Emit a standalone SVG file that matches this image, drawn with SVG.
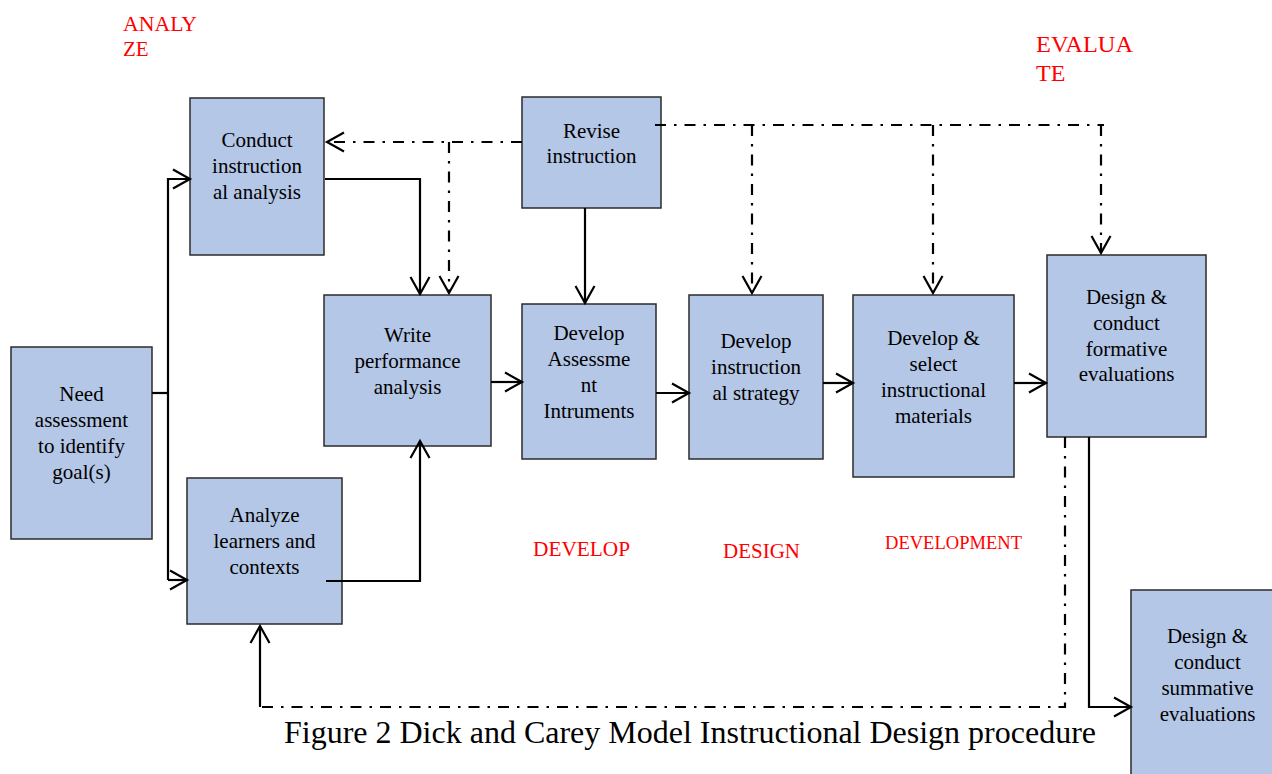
<svg xmlns="http://www.w3.org/2000/svg" width="1272" height="774" viewBox="0 0 1272 774">
<style>
.box{fill:#B4C7E7;stroke:#2b2b2b;stroke-width:1.5}
.t{font-family:"Liberation Serif","Times New Roman",serif;font-size:21px;fill:#000;text-anchor:middle}
.red{font-family:"Liberation Serif","Times New Roman",serif;fill:#FF0000}
.s{fill:none;stroke:#000;stroke-width:2.2}
.d{fill:none;stroke:#000;stroke-width:2.2;stroke-dasharray:11,8,2.5,8}
.cap{font-family:"Liberation Serif","Times New Roman",serif;font-size:32px;fill:#000}
</style>
<defs>
<marker id="arr" markerUnits="userSpaceOnUse" markerWidth="22" markerHeight="24" viewBox="-19 -12 22 24" refX="0" refY="0" orient="auto">
<path d="M-17,-9.5 L0,0 L-17,9.5" fill="none" stroke="#000" stroke-width="2.2" stroke-dasharray="none"/>
</marker>
</defs>
<rect width="1272" height="774" fill="#fff"/>
<g id="labels">
<text class="red" font-size="21" x="123" y="31" textLength="74" lengthAdjust="spacingAndGlyphs">ANALY</text>
<text class="red" font-size="21" x="123" y="56">ZE</text>
<text class="red" font-size="24" x="1036" y="52" textLength="97" lengthAdjust="spacingAndGlyphs">EVALUA</text>
<text class="red" font-size="24" x="1036" y="81">TE</text>
<text class="red" font-size="20.5" x="533" y="556" textLength="97" lengthAdjust="spacingAndGlyphs">DEVELOP</text>
<text class="red" font-size="20.5" x="723" y="558" textLength="77" lengthAdjust="spacingAndGlyphs">DESIGN</text>
<text class="red" font-size="19" x="885" y="549" textLength="137" lengthAdjust="spacingAndGlyphs">DEVELOPMENT</text>
</g>
<g id="need">
<rect class="box" x="11" y="347" width="141" height="192"/>
<text class="t" x="81.5" y="401">Need</text>
<text class="t" x="81.5" y="427">assessment</text>
<text class="t" x="81.5" y="453">to identify</text>
<text class="t" x="81.5" y="479">goal(s)</text>
</g>
<g id="conduct">
<rect class="box" x="190" y="98" width="134" height="157"/>
<text class="t" x="257" y="147">Conduct</text>
<text class="t" x="257" y="173">instruction</text>
<text class="t" x="257" y="199">al analysis</text>
</g>
<g id="analyze">
<rect class="box" x="187" y="478" width="155" height="146"/>
<text class="t" x="264.5" y="522">Analyze</text>
<text class="t" x="264.5" y="548">learners and</text>
<text class="t" x="264.5" y="574">contexts</text>
</g>
<g id="write">
<rect class="box" x="324" y="295" width="167" height="151"/>
<text class="t" x="407.5" y="342">Write</text>
<text class="t" x="407.5" y="368">performance</text>
<text class="t" x="407.5" y="394">analysis</text>
</g>
<g id="revise">
<rect class="box" x="522" y="97" width="139" height="111"/>
<text class="t" x="591.5" y="138">Revise</text>
<text class="t" x="591.5" y="163">instruction</text>
</g>
<g id="assess">
<rect class="box" x="522" y="304" width="134" height="155"/>
<text class="t" x="589" y="340">Develop</text>
<text class="t" x="589" y="366">Assessme</text>
<text class="t" x="589" y="392">nt</text>
<text class="t" x="589" y="418">Intruments</text>
</g>
<g id="strategy">
<rect class="box" x="689" y="295" width="134" height="164"/>
<text class="t" x="756" y="348">Develop</text>
<text class="t" x="756" y="374">instruction</text>
<text class="t" x="756" y="400">al strategy</text>
</g>
<g id="materials">
<rect class="box" x="853" y="295" width="161" height="182"/>
<text class="t" x="933.5" y="345">Develop &amp;</text>
<text class="t" x="933.5" y="371">select</text>
<text class="t" x="933.5" y="397">instructional</text>
<text class="t" x="933.5" y="423">materials</text>
</g>
<g id="formative">
<rect class="box" x="1047" y="255" width="159" height="182"/>
<text class="t" x="1126.5" y="304">Design &amp;</text>
<text class="t" x="1126.5" y="330">conduct</text>
<text class="t" x="1126.5" y="356">formative</text>
<text class="t" x="1126.5" y="381">evaluations</text>
</g>
<g id="summative">
<rect class="box" x="1131" y="590" width="160" height="200"/>
<text class="t" x="1207.5" y="643">Design &amp;</text>
<text class="t" x="1207.5" y="669">conduct</text>
<text class="t" x="1207.5" y="695">summative</text>
<text class="t" x="1207.5" y="721">evaluations</text>
</g>
<g id="connectors">
<path class="s" d="M152,393 H168"/>
<path class="s" d="M168,580 V179 H190" marker-end="url(#arr)"/>
<path class="s" d="M168,580 H187" marker-end="url(#arr)"/>
<path class="s" d="M325,179 H420 V294" marker-end="url(#arr)"/>
<path class="s" d="M326,581 H420 V441" marker-end="url(#arr)"/>
<path class="d" d="M522,142 H327" marker-end="url(#arr)"/>
<path class="d" d="M449,142 V293" marker-end="url(#arr)"/>
<path class="s" d="M585,208 V303" marker-end="url(#arr)"/>
<path class="d" d="M655,125 H1104"/>
<path class="d" d="M752,125 V293" marker-end="url(#arr)"/>
<path class="d" d="M933,125 V293" marker-end="url(#arr)"/>
<path class="d" d="M1101,125 V253" marker-end="url(#arr)"/>
<path class="s" d="M491,382 H522" marker-end="url(#arr)"/>
<path class="s" d="M656,393 H689" marker-end="url(#arr)"/>
<path class="s" d="M823,383 H853" marker-end="url(#arr)"/>
<path class="s" d="M1014,383 H1046" marker-end="url(#arr)"/>
<path class="d" d="M1065,437 V707 H260"/>
<path class="s" d="M260,707 V626" marker-end="url(#arr)"/>
<path class="s" d="M1089,437 V707 H1131" marker-end="url(#arr)"/>
</g>
<text class="cap" x="284" y="743" textLength="812" lengthAdjust="spacingAndGlyphs">Figure 2 Dick and Carey Model Instructional Design procedure</text>
</svg>
